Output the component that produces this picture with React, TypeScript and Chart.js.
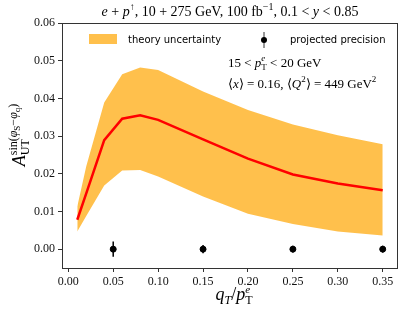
import React, { useEffect, useRef } from "react";
import { Chart, registerables } from "chart.js";
Chart.register(...registerables);

// ---- data ----
const qT = [0.01, 0.02, 0.04, 0.06, 0.08, 0.1, 0.15, 0.2, 0.25, 0.3, 0.35];
const central = [0.0078, 0.0148, 0.0289, 0.0346, 0.0355, 0.0343, 0.0291, 0.024, 0.0198, 0.0174, 0.0156];
const upper = [0.0113, 0.022, 0.0389, 0.0464, 0.0482, 0.0475, 0.0418, 0.0369, 0.0331, 0.0302, 0.0278];
const lower = [0.0047, 0.0088, 0.0169, 0.0209, 0.021, 0.0193, 0.014, 0.0094, 0.0067, 0.0047, 0.0036];
const projX = [0.05, 0.15, 0.25, 0.35];
const projY = [0, 0, 0, 0];
const projErr = [0.002, 0.0011, 0.0009, 0.0009];
const xTicks = [0, 0.05, 0.1, 0.15, 0.2, 0.25, 0.3, 0.35];
const yTicks = [0, 0.01, 0.02, 0.03, 0.04, 0.05, 0.06];

const SERIF = '"Liberation Serif", "Times New Roman", serif';
const SANS = '"DejaVu Sans", sans-serif';
const BAND = "rgba(255,165,0,0.7)";

type Seg = { t: string; s: number; i?: boolean; dy?: number; stack?: boolean; f?: string };
const fontOf = (s: Seg) => `${s.i ? "italic " : ""}${s.s}px ${s.f || SERIF}`;

function drawRich(ctx: CanvasRenderingContext2D, segs: Seg[], x: number, y: number, align: "left" | "center" = "left") {
  let cx = 0, prevStart = 0, prevEnd = 0;
  const out: { s: Seg; start: number }[] = [];
  for (const s of segs) {
    ctx.font = fontOf(s);
    const w = ctx.measureText(s.t).width;
    let start: number;
    if (s.stack) {
      start = prevStart;
      cx = Math.max(prevEnd, start + w);
      prevEnd = cx;
    } else {
      start = cx;
      cx = start + w;
      prevStart = start;
      prevEnd = cx;
    }
    out.push({ s, start });
  }
  const x0 = align === "center" ? x - cx / 2 : x;
  ctx.textAlign = "left";
  ctx.textBaseline = "alphabetic";
  for (const o of out) {
    ctx.font = fontOf(o.s);
    ctx.fillText(o.s.t, x0 + o.start, y + (o.s.dy || 0));
  }
  return cx;
}

const decorations = {
  id: "decorations",
  afterDatasetsDraw(chart: any) {
    const { ctx, chartArea: a, scales } = chart;
    const xs = scales.x, ys = scales.y;
    ctx.save();
    // error bars for projected precision
    ctx.strokeStyle = "#000";
    ctx.lineWidth = 1.5;
    projX.forEach((xv, i) => {
      const px = xs.getPixelForValue(xv);
      ctx.beginPath();
      ctx.moveTo(px, ys.getPixelForValue(projY[i] - projErr[i]));
      ctx.lineTo(px, ys.getPixelForValue(projY[i] + projErr[i]));
      ctx.stroke();
    });
    // frame
    ctx.strokeStyle = "#333";
    ctx.lineWidth = 1;
    ctx.strokeRect(Math.round(a.left) + 0.5, Math.round(a.top) + 0.5, Math.round(a.right - a.left) - 1, Math.round(a.bottom - a.top));
    ctx.fillStyle = "#000";
    // title
    drawRich(ctx, [
      { t: "e", s: 14, i: true }, { t: " + ", s: 14 }, { t: "p", s: 14, i: true }, { t: "↑", s: 10, dy: -6 },
      { t: ", 10 + 275 GeV, 100 fb", s: 14 }, { t: "−1", s: 10, dy: -6 },
      { t: ", 0.1 < ", s: 14 }, { t: "y", s: 14, i: true }, { t: " < 0.85", s: 14 },
    ], (a.left + a.right) / 2, 16, "center");
    // legend
    ctx.fillStyle = BAND;
    ctx.fillRect(89, 34, 28, 10);
    ctx.fillStyle = "#000";
    ctx.font = `10px ${SANS}`;
    ctx.textBaseline = "middle";
    ctx.fillText("theory uncertainty", 128, 40);
    ctx.fillText("projected precision", 290, 40);
    ctx.beginPath();
    ctx.moveTo(264, 32); ctx.lineTo(264, 48); ctx.stroke();
    ctx.beginPath();
    ctx.arc(264, 40, 3, 0, Math.PI * 2); ctx.fill();
    // annotations
    drawRich(ctx, [
      { t: "15 < ", s: 13 }, { t: "p", s: 13, i: true }, { t: "e", s: 9, i: true, dy: -6 }, { t: "T", s: 9, dy: 3, stack: true },
      { t: " < 20 GeV", s: 13 },
    ], 228, 67);
    drawRich(ctx, [
      { t: "⟨", s: 13 }, { t: "x", s: 13, i: true }, { t: "⟩ = 0.16, ⟨", s: 13 }, { t: "Q", s: 13, i: true },
      { t: "2", s: 9, dy: -6 }, { t: "⟩ = 449 GeV", s: 13 }, { t: "2", s: 9, dy: -6 },
    ], 228, 88);
    // x label
    drawRich(ctx, [
      { t: "q", s: 18, i: true }, { t: "T", s: 12, i: true, dy: 4 }, { t: "/", s: 18 }, { t: "p", s: 18, i: true },
      { t: "e", s: 11, i: true, dy: -7 }, { t: "T", s: 12, dy: 4, stack: true },
    ], 234, 300, "center");
    // y label
    ctx.translate(25, 135);
    ctx.rotate(-Math.PI / 2);
    drawRich(ctx, [
      { t: "A", s: 18, i: true },
      { t: "sin(", s: 12, dy: -8 }, { t: "UT", s: 12, dy: 4, stack: true },
      { t: "φ", s: 12, i: true, dy: -8 }, { t: "S", s: 9, dy: -5 }, { t: "−", s: 12, dy: -8 },
      { t: "φ", s: 12, i: true, dy: -8 }, { t: "q", s: 9, dy: -5 }, { t: ")", s: 12, dy: -8 },
    ], 0, 0, "center");
    ctx.restore();
  },
};

export default function App() {
  const ref = useRef<HTMLCanvasElement>(null);
  useEffect(() => {
    document.body.style.margin = "0";
    const chart = new Chart(ref.current!, {
      type: "line",
      data: {
        datasets: [
          {
            type: "scatter",
            data: projX.map((x, i) => ({ x, y: projY[i] })),
            backgroundColor: "#000",
            borderColor: "#000",
            pointRadius: 3,
            showLine: false,
          } as any,
          {
            data: qT.map((x, i) => ({ x, y: central[i] })),
            borderColor: "#ff0000",
            borderWidth: 2.5,
            pointRadius: 0,
            fill: false,
            tension: 0,
          },
          {
            data: qT.map((x, i) => ({ x, y: lower[i] })),
            borderWidth: 0,
            borderColor: "rgba(0,0,0,0)",
            pointRadius: 0,
            fill: false,
          },
          {
            data: qT.map((x, i) => ({ x, y: upper[i] })),
            borderWidth: 0,
            borderColor: "rgba(0,0,0,0)",
            backgroundColor: BAND,
            pointRadius: 0,
            fill: "-1",
          },
        ],
      },
      options: {
        animation: false,
        responsive: false,
        devicePixelRatio: 1,
        layout: { padding: { top: 23, right: 9, left: 0, bottom: 0 } },
        plugins: { legend: { display: false }, tooltip: { enabled: false } },
        scales: {
          x: {
            type: "linear",
            min: -0.007,
            max: 0.367,
            afterFit: (s: any) => { s.height = 46; },
            afterBuildTicks: (s: any) => { s.ticks = xTicks.map((v) => ({ value: v })); },
            grid: { drawOnChartArea: false, drawTicks: true, tickLength: 4, color: "#333" },
            border: { display: false },
            ticks: { font: { family: SERIF, size: 12 }, color: "#111", padding: 3, maxRotation: 0, callback: (v: any) => Number(v).toFixed(2) },
          },
          y: {
            type: "linear",
            min: -0.005,
            max: 0.06,
            afterFit: (s: any) => { s.width = 62; },
            afterBuildTicks: (s: any) => { s.ticks = yTicks.map((v) => ({ value: v })); },
            grid: { drawOnChartArea: false, drawTicks: true, tickLength: 4, color: "#333" },
            border: { display: false },
            ticks: { font: { family: SERIF, size: 12 }, color: "#111", padding: 3, callback: (v: any) => Number(v).toFixed(2) },
          },
        },
      },
      plugins: [decorations],
    });
    return () => chart.destroy();
  }, []);
  return <canvas ref={ref} width={407} height={314} style={{ display: "block" }} />;
}
